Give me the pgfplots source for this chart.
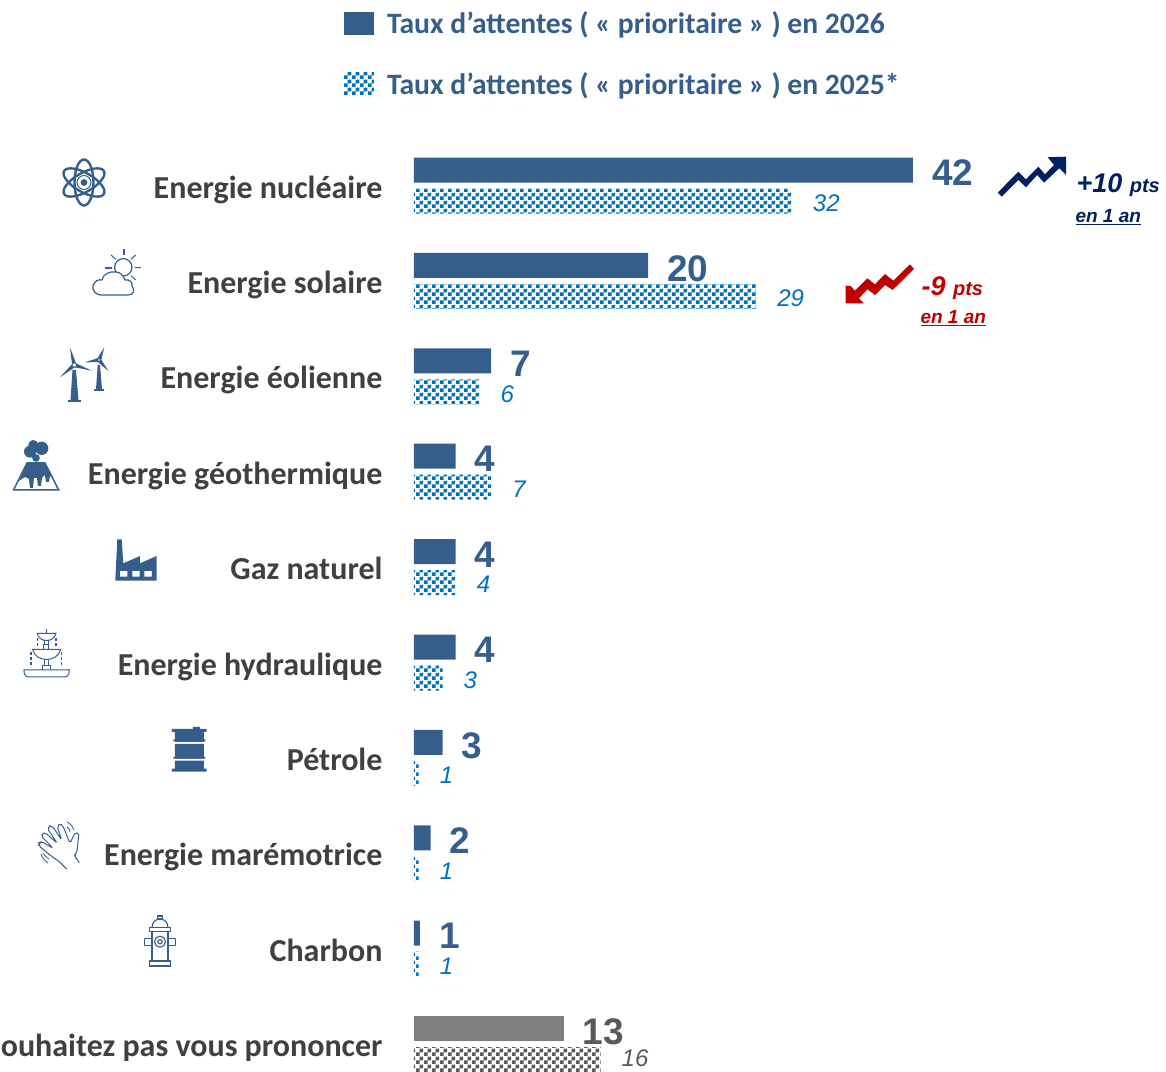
\documentclass[border=0pt]{standalone}
\usepackage{fontspec}
\setmainfont{Liberation Sans}
\newfontfamily\carlito{Carlito}
\usepackage{pgfplots}
\pgfplotsset{compat=1.18}
\usetikzlibrary{patterns,calc}
\definecolor{navy1}{HTML}{365E8D}
\definecolor{blue2}{HTML}{0070C0}
\definecolor{grey1}{HTML}{7F7F7F}
\definecolor{grey2}{HTML}{595959}
\definecolor{txt}{HTML}{404040}
\definecolor{upc}{HTML}{002060}
\definecolor{downc}{HTML}{C00000}
% checker, 4px cells
\pgfdeclarepatternformonly{checker}{\pgfqpoint{0pt}{0pt}}{\pgfqpoint{8pt}{8pt}}{\pgfqpoint{8pt}{8pt}}{%
  \pgfpathrectangle{\pgfqpoint{0pt}{0pt}}{\pgfqpoint{4pt}{4pt}}%
  \pgfpathrectangle{\pgfqpoint{4pt}{4pt}}{\pgfqpoint{4pt}{4pt}}%
  \pgfusepath{fill}}
\newcommand\blade[4]{\fill[navy1] ($(#1,#2)!2.2pt!90:(#3,#4)$) -- (#3,#4) -- ($(#1,#2)!2.2pt!-90:(#3,#4)$) -- cycle;}
\begin{document}
\begin{tikzpicture}
\useasboundingbox (-414pt,0pt) rectangle (752pt,1071pt);
\begin{axis}[
    at={(0pt,0pt)}, anchor=south west,
    scale only axis, width=752pt, height=1071pt,
    xmin=0, xmax=63.3, ymin=-1.939, ymax=9.287,
    y dir=reverse,
    axis line style={draw=none},
    xtick=\empty,
    ytick={0,1,2,3,4,5,6,7,8,9},
    yticklabels={Energie nucléaire,Energie solaire,Energie éolienne,Energie géothermique,Gaz naturel,Energie hydraulique,Pétrole,Energie marémotrice,Charbon,ouhaitez pas vous prononcer},
    y tick label style={font=\carlito\bfseries\fontsize{32}{36}\selectfont, text=txt, anchor=east, xshift=-28pt, yshift=-5.5pt, text height=22pt, text depth=7pt},
    major tick length=0pt,
    clip=false,
    xbar, bar width=25pt,
    point meta=explicit symbolic,
    nodes near coords={\pgfplotspointmeta},
    every node near coord/.append style={anchor=west, inner sep=0pt},
    legend style={at={(-0.0971,0.993)}, anchor=north west, draw=none, fill=none,
      font=\carlito\bfseries\fontsize{29.6}{34}\selectfont, text=navy1, row sep=33pt},
    legend cell align=left,
    legend image code/.code={\fill[#1] (0pt,-11pt) rectangle (30pt,11pt); \path (41pt,0pt);},
]
\addplot[fill=navy1, draw=none, bar shift=15pt,
  nodes near coords style={font=\bfseries\fontsize{37}{37}\selectfont, text=navy1, xshift=19pt, yshift=-3pt}]
  coordinates {(42,0)[42] (19.7,1)[20] (6.5,2)[7] (3.5,3)[4] (3.5,4)[4] (3.5,5)[4] (2.4,6)[3] (1.4,7)[2] (0.5,8)[1]};
\addlegendentry{Taux d’attentes ( « prioritaire » ) en 2026}
\addplot[pattern=checker, pattern color=blue2, draw=none, bar shift=-16pt,
  nodes near coords style={font=\itshape\fontsize{24}{24}\selectfont, text=blue2, xshift=21pt, yshift=-2pt}]
  coordinates {(31.8,0)[32] (28.8,1)[29] (5.5,2)[6] (6.5,3)[7] (3.5,4)[4] (2.4,5)[3] (0.4,6)[1] (0.4,7)[1] (0.4,8)[1]};
\addlegendentry{Taux d’attentes ( « prioritaire » ) en 2025*}
\addplot[fill=grey1, draw=none, bar shift=15pt, forget plot,
  nodes near coords style={font=\bfseries\fontsize{37}{37}\selectfont, text=grey2, xshift=19pt, yshift=-3pt}]
  coordinates {(12.6,9)[13]};
\addplot[pattern=checker, pattern color=grey2, draw=none, bar shift=-16pt, forget plot,
  nodes near coords style={font=\itshape\fontsize{24}{24}\selectfont, text=grey2, xshift=21pt, yshift=1pt}]
  coordinates {(15.7,9)[16]};
\end{axis}
% annotations and icons, in pixels of the reference from its top left corner
\begin{scope}[shift={(-414pt,1071pt)}, x=1pt, y=-1pt]
  % trend arrows
  \fill[upc] (997.7,192.7) -- (1018.3,171.7) -- (1026,179.3) -- (1038.3,166.7) -- (1045,174.3) -- (1054,165) -- (1047.7,157.3) -- (1066,156.7) -- (1066,175) -- (1059.3,168.3) -- (1044,182.7) -- (1037.3,175) -- (1026,187.3) -- (1018.3,180) -- (1001.7,196.7) -- cycle;
  \fill[downc] (910,264.3) -- (893.3,280.7) -- (885,274) -- (875,284.3) -- (867.3,278.3) -- (855,290.7) -- (850.7,286) -- (845.7,285.7) -- (845.7,303.3) -- (864,303.3) -- (859,298.3) -- (867.3,289.3) -- (875,295) -- (885,285) -- (892.7,290) -- (914,269) -- cycle;
  \node[anchor=west, text=upc, font=\bfseries\itshape\fontsize{27}{27}\selectfont] at (1073,185) {+10 \fontsize{20}{20}\selectfont pts};
  \node[anchor=west, text=upc, font=\bfseries\itshape\fontsize{19}{19}\selectfont] at (1072,217) {\underline{en 1 an}};
  \node[anchor=west, text=downc, font=\bfseries\itshape\fontsize{27}{27}\selectfont] at (918,288) {-9 \fontsize{20}{20}\selectfont pts};
  \node[anchor=west, text=downc, font=\bfseries\itshape\fontsize{19}{19}\selectfont] at (917,318) {\underline{en 1 an}};
  % atom
  \foreach \a in {90,30,-30} \draw[navy1, line width=2.4pt, rotate around={\a:(84,182.5)}] (84,182.5) ellipse (23pt and 9.5pt);
  \fill[navy1] (84,182.5) circle (3.4pt);
  \draw[navy1, line width=1pt] (84,182.5) circle (7pt);
  % sun and cloud
  \draw[navy1, line width=1.2pt] (123.3,267.3) circle (8.7pt);
  \draw[navy1, line width=2pt] (124,249.3) -- (124,255.5) (105,267.7) -- (111.7,267.7);
  \draw[navy1, line width=1pt] (135,267.7) -- (141,267.7) (111,255) -- (115.7,259.3) (135.7,255) -- (131,259.3) (135.7,280) -- (131,275.7);
  \draw[navy1, line width=1.2pt, fill=white] (102,295) .. controls (95,295) and (92,290) .. (93,286) .. controls (94,281) and (99,279) .. (102,280) .. controls (103,274) and (110,271) .. (116,272) .. controls (120,272) and (124,276) .. (125,280) .. controls (129,279) and (133,282) .. (132,286) .. controls (135,290) and (134,295) .. (128,295) -- cycle;
  % wind turbines
  \fill[navy1] (72.5,370) -- (76,370) -- (78.5,400) -- (70.5,400) -- cycle;
  \fill[navy1] (68.3,400) rectangle (81,402);
  \fill[navy1] (97.7,365) -- (100,365) -- (102,389.5) -- (96,389.5) -- cycle;
  \fill[navy1] (94.3,389) rectangle (104,390.7);
  \blade{74.3}{365}{70}{347.3}\blade{74.3}{365}{92}{370.7}\blade{74.3}{365}{60}{377.3}
  \blade{99}{360}{104.3}{347.3}\blade{99}{360}{85}{362.3}\blade{99}{360}{108.3}{371}
  \draw[navy1, fill=white, line width=.8pt] (74.3,365) circle (2.2pt) (99,360) circle (1.6pt);
  % volcano
  \fill[navy1] (30,451.7) circle (6pt) (41.7,448.3) circle (6.7pt) (33.3,445) circle (5pt) (36,458) circle (3.8pt);
  \draw[navy1, line width=1.5pt] (13.5,490) -- (27,463) -- (45,463) -- (58.7,490) -- cycle;
  \fill[navy1] (27,463) -- (45,463) -- (54,480) -- (50,476) -- (49,482) -- (46,482) -- (45,475) -- (42,478) -- (41,486) -- (38,486) -- (37,478) -- (34,478) -- (33,488) -- (30,488) -- (29,479) -- (25,477) -- (19,481) -- cycle;
  % factory
  \fill[navy1, even odd rule] (115.3,580.7) -- (117.3,539.3) -- (121.7,539.3) -- (123.3,563.3) -- (140,556) -- (140,563.3) -- (156.7,556) -- (156.7,580.7) -- cycle
    (120,571) rectangle (127.3,576.7) (132.3,571) rectangle (139.7,576.7) (144.3,571) rectangle (152,576.7);
  % fountain
  \begin{scope}[navy1, line width=1pt]
    \draw (24,670) -- (69.3,670) .. controls (69.3,677) and (66,677) .. (62,677) -- (31,677) .. controls (27,677) and (24,677) .. (24,670) -- cycle;
    \draw (43,670) -- (43,665.5) -- (50.5,665.5) -- (50.5,670) (44.5,665.5) -- (44.5,660) (49,665.5) -- (49,660);
    \draw (32.7,649.3) -- (60.7,649.3) .. controls (59,656) and (53,659.5) .. (46.7,659.5) .. controls (40,659.5) and (34,656) .. (32.7,649.3) -- cycle;
    \draw (44,649.3) -- (44,645) -- (49,645) -- (49,649.3) (45,645) -- (45,640.5) (48.5,645) -- (48.5,640.5);
    \draw (37.3,633.3) -- (56,633.3) .. controls (55,638) and (51,640.5) .. (46.7,640.5) .. controls (42,640.5) and (38,638) .. (37.3,633.3) -- cycle;
    \draw (46.7,633.3) -- (46.7,629);
    \draw[line width=1.6pt, dash pattern=on 3.5pt off 1.5pt] (37.7,638) -- (37.7,647) (56,638) -- (56,647) (31,652) -- (31,667) (61.7,652) -- (61.7,667);
  \end{scope}
  % oil barrel
  \fill[navy1] (175,732) rectangle (204,742) (175,744) rectangle (204,758.7) (175,760.7) rectangle (204,770);
  \fill[navy1] (172,729) rectangle (206.7,732) (172,768.7) rectangle (206.7,771.7) (193,727) rectangle (200,729)
    (173.5,739.5) rectangle (205.5,741.5) (173.5,757) rectangle (205.5,758.7);
  % hand
  \draw[navy1, line width=1pt, rounded corners=1.8pt] (66.7,869) -- (59.3,861.7) -- (50,855) -- (39,846) -- (39,842.7) -- (41.7,841.7) -- (53.3,848.3) -- (41.7,836.7) -- (42.3,832.7) -- (46,833.3) -- (57.3,843.3) -- (47.7,829) -- (49.3,825.7) -- (52.7,826.7) -- (61.7,840) -- (57.3,826.7) -- (60,823.3) -- (63.3,826.7) -- (70,843.3) -- (75,832.7) -- (79,833.3) -- (76.7,853.3) -- (74,855) -- (79.3,862.7);
  \draw[navy1, line width=.8pt] (67,822) .. controls (71,824) and (73,827) .. (74,830) (67,827) .. controls (69,828) and (70,830) .. (70,832) (41,854) .. controls (42,857) and (44,860) .. (48,863) (43,853) .. controls (45,856) and (46,857) .. (49,859);
  % hydrant
  \begin{scope}[navy1, line width=1.1pt]
    \draw (149.3,961) rectangle (170.7,966);
    \draw (152,931.7) rectangle (168,961);
    \draw (149.3,927.7) rectangle (170.7,931.7);
    \draw (152,927.7) .. controls (152,922) and (156,919) .. (160,919) .. controls (164,919) and (168,922) .. (168,927.7);
    \draw (157.3,919) rectangle (162.7,916);
    \draw (144.7,938.3) rectangle (152,945.7) (168,938.3) rectangle (175.3,945.7);
    \draw (160,941.7) circle (5.5pt) (160,941.7) circle (2.2pt);
  \end{scope}
\end{scope}
\end{tikzpicture}
\end{document}
